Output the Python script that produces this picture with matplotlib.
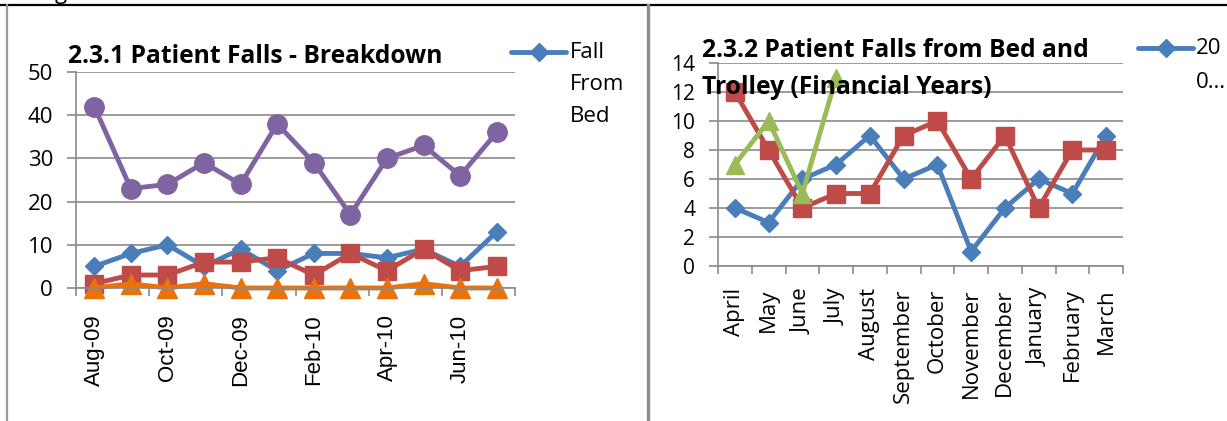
import numpy as np
import matplotlib
matplotlib.use('Agg')
import matplotlib.pyplot as plt
from matplotlib.lines import Line2D

# left chart: monthly breakdown
months_left = ['Aug-09', 'Sep-09', 'Oct-09', 'Nov-09', 'Dec-09', 'Jan-10',
               'Feb-10', 'Mar-10', 'Apr-10', 'May-10', 'Jun-10', 'Jul-10']
fall_from_bed = [5, 8, 10, 5, 9, 4, 8, 8, 7, 9, 5, 13]
series_red = [1, 3, 3, 6, 6, 7, 3, 8, 4, 9, 4, 5]
series_orange = [0, 1, 0, 1, 0, 0, 0, 0, 0, 1, 0, 0]
series_total = [42, 23, 24, 29, 24, 38, 29, 17, 30, 33, 26, 36]

# right chart: financial years
months_fy = ['April', 'May', 'June', 'July', 'August', 'September', 'October',
             'November', 'December', 'January', 'February', 'March']
fy_blue = [4, 3, 6, 7, 9, 6, 7, 1, 4, 6, 5, 9]
fy_red = [12, 8, 4, 5, 5, 9, 10, 6, 9, 4, 8, 8]
fy_green = [7, 10, 5, 13, np.nan, np.nan, np.nan, np.nan, np.nan, np.nan, np.nan, np.nan]

BLUE = '#4a7ebb'
RED = '#be4b48'
GREEN = '#9bbb59'
PURPLE = '#8064a2'
ORANGE = '#e8720c'
GRID = '#8a8a8a'
CAL = 'Open Sans'

W, H = 1227, 421
fig = plt.figure(figsize=(W / 100, H / 100), dpi=100)


def fx(x):
    return x / W


def fy(y):
    return 1 - y / H


def style_axes(ax, ymax, ystep, ysize):
    ax.set_ylim(0, ymax)
    ax.set_xlim(-0.5, 11.5)
    ax.set_yticks(np.arange(0, ymax + 1, ystep))
    ax.yaxis.grid(True, color=GRID, lw=1.2)
    ax.set_axisbelow(True)
    for s in ['top', 'right']:
        ax.spines[s].set_visible(False)
    for s in ['left', 'bottom']:
        ax.spines[s].set_color(GRID)
        ax.spines[s].set_linewidth(1.2)
    ax.tick_params(axis='y', length=6.5, width=1.2, color=GRID, pad=10,
                   labelsize=ysize)
    for t in ax.get_yticklabels():
        t.set_family(CAL)


lw = 3.5

# ---- left chart
ax1 = fig.add_axes([fx(76), fy(288), (515 - 76) / W, (288 - 72) / H])
style_axes(ax1, 50, 10, 16)
x = np.arange(len(months_left))
ax1.plot(x, fall_from_bed, color=BLUE, lw=lw, marker='D', ms=9.5, clip_on=False)
ax1.plot(x, series_red, color=RED, lw=lw, marker='s', ms=13, clip_on=False)
ax1.plot(x, series_orange, color=ORANGE, lw=lw, marker='^', ms=14, clip_on=False)
ax1.plot(x, series_total, color=PURPLE, lw=lw, marker='o', ms=14, clip_on=False)
ax1.set_xticks(np.arange(-0.5, 12, 2))
ax1.set_xticklabels([])
ax1.tick_params(axis='x', which='major', length=6, width=1.2, color=GRID)
ax1.set_xticks(x[::2], minor=True)
ax1.set_xticklabels(months_left[::2], minor=True, rotation=90,
                    family='Liberation Sans', fontsize=16)
ax1.tick_params(axis='x', which='minor', length=0, pad=19)

# ---- right chart
ax2 = fig.add_axes([fx(718), fy(266), (1123 - 718) / W, (266 - 63) / H])
style_axes(ax2, 14, 2, 15)
x2 = np.arange(len(months_fy))
ax2.plot(x2, fy_blue, color=BLUE, lw=lw, marker='D', ms=9.5, clip_on=False)
ax2.plot(x2, fy_red, color=RED, lw=lw, marker='s', ms=13, clip_on=False)
ax2.plot(x2, fy_green, color=GREEN, lw=lw, marker='^', ms=13, clip_on=False)
ax2.set_xticks(np.arange(-0.5, 12, 1))
ax2.set_xticklabels([])
ax2.tick_params(axis='x', which='major', length=5.5, width=1.2, color=GRID)
ax2.set_xticks(x2, minor=True)
ax2.set_xticklabels(months_fy, minor=True, rotation=90, family=CAL, fontsize=16)
ax2.tick_params(axis='x', which='minor', length=0, pad=16)

# ---- titles
tkw = dict(family=CAL, fontweight='bold', fontsize=17.7, va='baseline',
           ha='left', zorder=5)
fig.text(fx(68), fy(63), '2.3.1 Patient Falls - Breakdown', **tkw)
fig.text(fx(702), fy(57), '2.3.2 Patient Falls from Bed and', **tkw)
fig.text(fx(702), fy(94), 'Trolley (Financial Years)', **tkw)

# ---- legends (truncated, as in the source)
fig.add_artist(Line2D([fx(511), fx(566)], [fy(52), fy(52)], color=BLUE, lw=lw,
                      solid_capstyle='round'))
fig.add_artist(Line2D([fx(538.5)], [fy(52)], color=BLUE, marker='D', ms=9.5))
for i, word in enumerate(['Fall', 'From', 'Bed']):
    fig.text(fx(570), fy(53 + i * 32), word, family=CAL, fontsize=16,
             va='center', ha='left')

fig.add_artist(Line2D([fx(1138), fx(1193)], [fy(48), fy(48)], color=BLUE, lw=lw,
                      solid_capstyle='round'))
fig.add_artist(Line2D([fx(1165.5)], [fy(48)], color=BLUE, marker='D', ms=9.5))
fig.text(fx(1196), fy(49), '20', family=CAL, fontsize=16, va='center', ha='left')
fig.text(fx(1196), fy(83), '0\u2026', family=CAL, fontsize=16, va='center', ha='left')

# ---- page borders
fig.add_artist(Line2D([0, 1], [fy(5), fy(5)], color='black', lw=1.6))
fig.add_artist(Line2D([fx(7), fx(7)], [fy(5), 0], color='#999999', lw=1.6))
fig.add_artist(Line2D([fx(648), fx(648)], [fy(5), 0], color='#8c8c8c', lw=2.4))
fig.text(fx(55), fy(-1), 'g', family=CAL, fontsize=16, va='baseline', ha='left')

fig.savefig('out.png', dpi=100)
